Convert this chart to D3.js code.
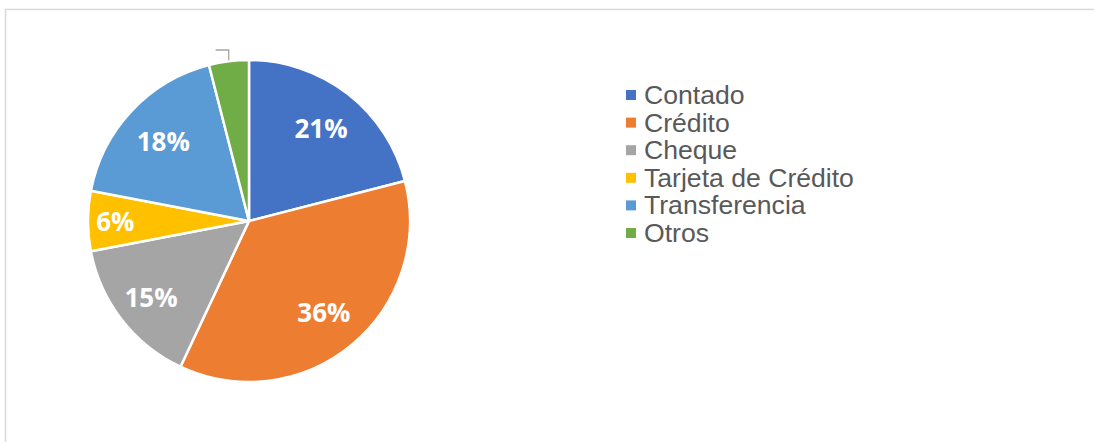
<!DOCTYPE html>
<html><head><meta charset="utf-8">
<script src="https://cdn.jsdelivr.net/npm/d3@7"></script>
<style>html,body{margin:0;padding:0;background:#fff;} .lg{font-family:"Liberation Sans",Arial,sans-serif;}</style>
</head><body>
<script>
const categories = ["Contado","Crédito","Cheque","Tarjeta de Crédito","Transferencia","Otros"];
const values = [21,36,15,6,18,4];
const colors = ["#4472C4","#ED7D31","#A5A5A5","#FFC000","#5B9BD5","#70AD47"];

const W=1094,H=442;
const svg=d3.select("body").append("svg").attr("width",W).attr("height",H);
svg.append("path").attr("d",`M5.5,${H+2} L5.5,9.5 L${W+2},9.5`).attr("fill","none").attr("stroke","#d9d9d9").attr("stroke-width",1.5);

const cx=249,cy=221,R=161;
const g=svg.append("g").attr("transform",`translate(${cx},${cy})`);
const pie=d3.pie().sort(null).value(d=>d)(values);
const arc=d3.arc().innerRadius(0).outerRadius(R);
g.selectAll("path.s").data(pie).join("path").attr("class","s")
 .attr("d",arc).attr("fill",(d,i)=>colors[i]).attr("stroke","#fff").attr("stroke-width",2.5).attr("stroke-linejoin","round");

const total=d3.sum(values);
pie.forEach((d,i)=>{
  const pct=d.value/total;
  if(pct<0.05){
    const a=(d.startAngle+d.endAngle)/2;
    const p1=[Math.sin(a)*(R+1),-Math.cos(a)*(R+1)];
    const p2=[p1[0],-R-10];
    const p3=[p2[0]-13,p2[1]];
    g.append("polyline").attr("points",[p1,p2,p3].map(p=>p.join(",")).join(" "))
     .attr("fill","none").attr("stroke","#a6a6a6").attr("stroke-width",1.3);
    return;
  }
  const k = pct<0.1?0.83:(pct<0.16?0.77:0.73);
  const la=d3.arc().innerRadius(R*k).outerRadius(R*k);
  const c=la.centroid(d);
  g.append("text").attr("x",c[0]).attr("y",c[1]).attr("text-anchor","middle").attr("dominant-baseline","central")
   .attr("font-family","Open Sans").attr("font-weight",700).attr("font-size",26).attr("fill","#fff")
   .text(Math.round(pct*100)+"%");
});

const lg=svg.append("g").attr("transform","translate(626,95)");
categories.forEach((c,i)=>{
  const y=i*27.6;
  lg.append("rect").attr("x",0).attr("y",y-5).attr("width",10).attr("height",10).attr("fill",colors[i]);
  lg.append("text").attr("class","lg").attr("x",18).attr("y",y).attr("dominant-baseline","central")
   .attr("font-size",26.6).attr("fill","#595959").text(c);
});
</script>
</body></html>
